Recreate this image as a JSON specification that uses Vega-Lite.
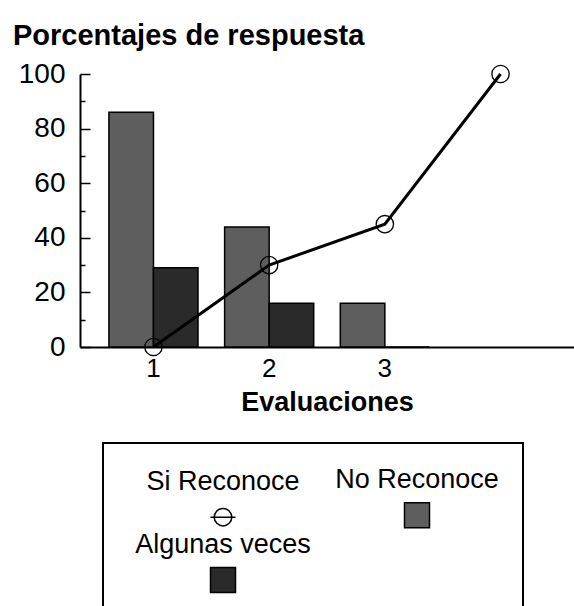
{
  "$schema": "https://vega.github.io/schema/vega-lite/v6.json",
  "autosize": "none",
  "width": 494,
  "height": 273,
  "padding": {"left": 80, "top": 74, "right": 0, "bottom": 259},
  "background": "white",
  "title": {
    "text": "Porcentajes de respuesta",
    "anchor": "start",
    "frame": "group",
    "dx": -67,
    "dy": 32,
    "offset": 18,
    "baseline": "alphabetic",
    "fontSize": 29,
    "fontWeight": "bold",
    "color": "black",
    "font": "Liberation Sans"
  },
  "data": {
    "values": [
      {"eval": "1", "serie": "No Reconoce", "valor": 86},
      {"eval": "1", "serie": "Algunas veces", "valor": 29},
      {"eval": "2", "serie": "No Reconoce", "valor": 44},
      {"eval": "2", "serie": "Algunas veces", "valor": 16},
      {"eval": "3", "serie": "No Reconoce", "valor": 16},
      {"eval": "3", "serie": "Algunas veces", "valor": 0},
      {"eval": "1", "serie": "Si Reconoce", "valor": 0},
      {"eval": "2", "serie": "Si Reconoce", "valor": 30},
      {"eval": "3", "serie": "Si Reconoce", "valor": 45},
      {"eval": "4", "serie": "Si Reconoce", "valor": 100}
    ]
  },
  "encoding": {
    "x": {
      "field": "eval",
      "type": "nominal",
      "scale": {"domain": ["1", "2", "3", "4"], "paddingInner": 0.23, "paddingOuter": 0.25},
      "axis": {
        "title": "Evaluaciones",
        "labelAngle": 0,
        "ticks": false,
        "labelExpr": "datum.value === '4' ? '' : datum.label",
        "labelFontSize": 26,
        "labelColor": "black",
        "labelPadding": 8,
        "domainColor": "black",
        "domainWidth": 2,
        "titleFontSize": 27,
        "titleFontWeight": "bold",
        "titleColor": "black",
        "titlePadding": 8
      }
    },
    "y": {
      "field": "valor",
      "type": "quantitative",
      "scale": {"domain": [0, 100], "nice": false},
      "axis": {
        "title": null,
        "grid": false,
        "values": [0, 10, 20, 30, 40, 50, 60, 70, 80, 90, 100],
        "labelExpr": "datum.value % 20 === 0 ? datum.label : ''",
        "labelFontSize": 28,
        "labelColor": "black",
        "labelPadding": 25,
        "tickSize": {"condition": {"test": "datum.value % 20 === 0", "value": -10}, "value": -5},
        "tickColor": "black",
        "tickWidth": 1.5,
        "domainColor": "black",
        "domainWidth": 2
      }
    }
  },
  "layer": [
    {
      "transform": [{"filter": "datum.serie !== 'Si Reconoce'"}],
      "mark": {"type": "bar", "stroke": "black", "strokeWidth": 1.5, "fillOpacity": 1},
      "encoding": {
        "xOffset": {
          "field": "serie",
          "type": "nominal",
          "scale": {"domain": ["No Reconoce", "Algunas veces"], "paddingInner": 0, "paddingOuter": 0}
        },
        "color": {
          "field": "serie",
          "type": "nominal",
          "scale": {
            "domain": ["Si Reconoce", "No Reconoce", "Algunas veces"],
            "range": ["transparent", "#5e5e5e", "#2a2a2a"]
          },
          "legend": {
            "title": null,
            "orient": "none",
            "legendX": 23,
            "legendY": 369,
            "columns": 2,
            "direction": "horizontal",
            "padding": 24,
            "rowPadding": 0,
            "columnPadding": 10,
            "strokeColor": "black",
            "labelFontSize": 27,
            "labelColor": "black",
            "labelLimit": 400,
            "symbolSize": 625,
            "encoding": {
              "legend": {"strokeWidth": {"value": 2}},
              "entries": {"width": {"value": 192}, "height": {"value": 60}},
              "labels": {
                "x": {"value": 96},
                "y": {"value": 0},
                "align": {"value": "center"},
                "baseline": {"value": "top"}
              },
              "symbols": {
                "x": {"value": 96},
                "y": {"value": 48},
                "size": {"value": 625},
                "shape": {"value": {"expr": "datum.value === 'Si Reconoce' ? 'M-1,0L1,0M0.7,0A0.7,0.7,0,1,1,-0.7,0A0.7,0.7,0,1,1,0.7,0' : 'square'"}},
                "stroke": {"value": "black"},
                "strokeWidth": {"value": 1.5},
                "opacity": {"value": 1}
              }
            }
          }
        }
      }
    },
    {
      "transform": [{"filter": "datum.serie === 'Si Reconoce'"}],
      "mark": {"type": "line", "strokeWidth": 3, "color": "black"}
    },
    {
      "transform": [{"filter": "datum.serie === 'Si Reconoce'"}],
      "mark": {"type": "point", "shape": "circle", "filled": false, "size": 300, "strokeWidth": 1.3, "opacity": 1, "color": "black"}
    }
  ],
  "config": {
    "font": "Liberation Sans",
    "view": {"stroke": null}
  }
}
